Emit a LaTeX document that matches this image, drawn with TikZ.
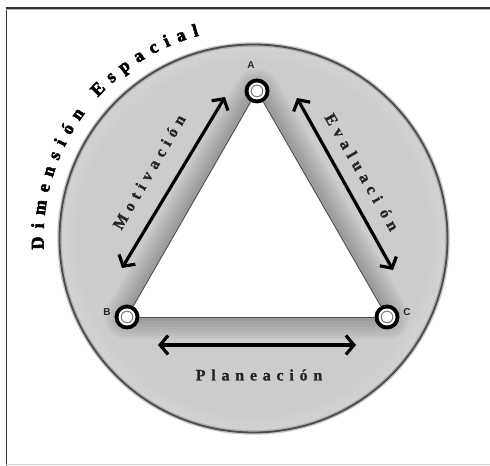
\documentclass[tikz,border=0pt]{standalone}
\usepackage{fontspec}
\setmainfont{Liberation Serif}
\newfontfamily\lblfont{Liberation Sans}[UprightFont=* Bold]
\newfontfamily\spacedfont{Liberation Serif}[LetterSpace=36, UprightFont=* Bold, FakeBold=1.2]
\newfontfamily\arcfont{Liberation Serif}[UprightFont=* Bold, FakeBold=3]
\usetikzlibrary{arrows.meta,decorations.text}
\definecolor{fillgray}{RGB}{204,204,204}
\definecolor{rimgray}{RGB}{75,75,75}
\tikzset{
  ring/.style={circle, fill=black, minimum size=25bp, inner sep=0pt,
    path picture={
      \fill[white] (path picture bounding box.center) circle (8.5bp);
      \draw[gray, line width=1bp, fill=white] (path picture bounding box.center) circle (5.8bp);
    }},
  vlabel/.style={font=\lblfont\fontsize{10bp}{12bp}\selectfont, text=black!85, inner sep=0pt},
  relarrow/.style={line width=3.2bp, {Straight Barb[length=8bp,width=19bp,line width=3.2bp]}-{Straight Barb[length=8bp,width=19bp,line width=3.2bp]}},
  rellabel/.style={font=\spacedfont\fontsize{16bp}{18bp}\selectfont, text=black!85, inner sep=0pt},
  edge/.style={draw=black!70, line width=0.9bp}
}
\begin{document}
\begin{tikzpicture}[x=1bp,y=1bp]
\useasboundingbox (0,0) rectangle (490,466);
% frame
\draw[black!80, line width=1.6bp] (6.5,0) -- (6.5,458);
\draw[black!80, line width=1.6bp] (6,458) -- (490,458);
\draw[gray!60, line width=0.8bp] (6,456.5) -- (490,456.5);
\draw[gray!35, line width=1bp] (6,1) -- (490,1);
% big circle
\coordinate (O) at (253.5,227.5);
\fill[fillgray] (O) circle (194);
\begin{scope}
  \clip (O) circle (194);
  \foreach \w in {44,38,32,26,20,14,8}{
    \draw[black, opacity=0.035, line width=\w bp, line join=round] (257,375) -- (127,149) -- (387,149) -- cycle;
  }
  \foreach \w in {30,20,10}{
    \draw[white, opacity=0.05, line width=\w bp] (O) circle (194);
  }
\end{scope}
\draw[black!45, line width=4.5bp, opacity=0.5] (O) circle (194);
\draw[rimgray, line width=1.8bp] (O) circle (194);
% triangle
\fill[white] (257,375) -- (127,149) -- (387,149) -- cycle;
\node[ring] (A) at (257,375) {};
\node[ring] (B) at (127,149) {};
\node[ring] (C) at (387,149) {};
\draw[edge] (A) -- (B);
\draw[edge] (B) -- (C);
\draw[edge] (C) -- (A);
\node[vlabel] (la) at (251,401) {A};
\node[vlabel] (lb) at (107,154) {B};
\node[vlabel] (lc) at (407,154) {C};
% arrows
\coordinate (m1) at (122,198);
\coordinate (m2) at (225,369);
\coordinate (e1) at (297,368);
\coordinate (e2) at (393,196);
\coordinate (p1) at (158,121);
\coordinate (p2) at (356,121);
\draw[relarrow] (m1) -- (m2);
\draw[relarrow] (e1) -- (e2);
\draw[relarrow] (p1) -- (p2);
% labels
\node[rellabel, rotate=60] (mot) at (149,294) {Motivación};
\node[rellabel, rotate=-60] (eva) at (362,294) {Evaluaci ón};
\node[rellabel] (pla) at (259,91) {Planeación};
% arc text
\path[decorate, decoration={text along path,
   text={|\arcfont\fontsize{18bp}{20bp}\selectfont|Dimensión Espacial},
   text align=fit to path}]
   (O) ++(183:210) arc[start angle=183, end angle=105, radius=210];
\end{tikzpicture}
\end{document}
